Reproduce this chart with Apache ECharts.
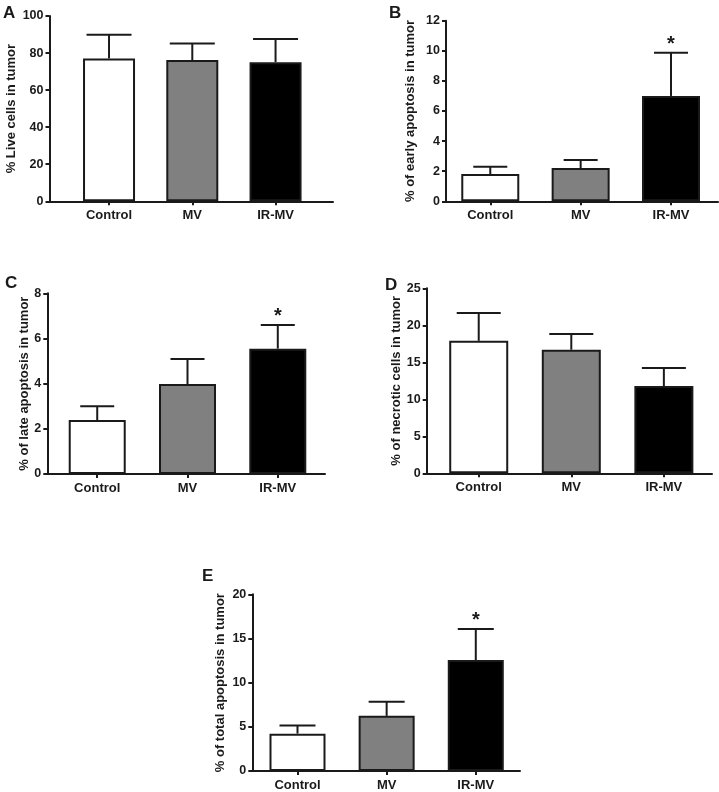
<!DOCTYPE html>
<html>
<head>
<meta charset="utf-8">
<script src="https://cdn.jsdelivr.net/npm/echarts@6/dist/echarts.min.js"></script>
<style>
html,body{margin:0;padding:0;background:#fff;}
#chart{width:719px;height:792px;}
</style>
</head>
<body>
<div id="chart"></div>
<script>
// ---- data ----
const categories = ['Control', 'MV', 'IR-MV'];
const xPositions = [1, 2, 3];

const liveMean = [77.1, 76.2, 75.1];
const liveSD = [12.8, 9.0, 12.5];
const liveSig = ['', '', ''];

const earlyMean = [1.81, 2.21, 7.0];
const earlySD = [0.49, 0.53, 2.87];
const earlySig = ['', '', '*'];

const lateMean = [2.39, 3.98, 5.55];
const lateSD = [0.61, 1.11, 1.05];
const lateSig = ['', '', '*'];

const necroMean = [17.9, 16.7, 11.8];
const necroSD = [3.76, 2.12, 2.43];
const necroSig = ['', '', ''];

const totalMean = [4.23, 6.24, 12.56];
const totalSD = [0.93, 1.61, 3.52];
const totalSig = ['', '', '*'];

const yTicksLive = [0, 100, 20];
const yTicksEarly = [0, 12, 2];
const yTicksLate = [0, 8, 2];
const yTicksNecro = [0, 25, 5];
const yTicksTotal = [0, 20, 5];

// ---- style ----
const barColors = ['#ffffff', '#808080', '#000000'];
const ink = '#1a1a1a';
const fontFamily = '"Liberation Sans", Arial, Helvetica, sans-serif';

const panels = [
  { letter: 'A', letterPos: [3, 4.5], yName: '% Live cells in tumor', mean: liveMean, sd: liveSD, sig: liveSig, ticks: yTicksLive,
    grid: { left: 49.5, top: 16, width: 283.5, height: 185.3 }, xMin: 0.285, xMax: 3.69, barWidth: 52, cap: 45, nameGap: 32 },
  { letter: 'B', letterPos: [389, 4.5], yName: '% of early apoptosis in tumor', mean: earlyMean, sd: earlySD, sig: earlySig, ticks: yTicksEarly,
    grid: { left: 446, top: 20.7, width: 272, height: 180.6 }, xMin: 0.51, xMax: 3.52, barWidth: 58, cap: 34, nameGap: 29 },
  { letter: 'C', letterPos: [5, 274.5], yName: '% of late apoptosis in tumor', mean: lateMean, sd: lateSD, sig: lateSig, ticks: yTicksLate,
    grid: { left: 47.3, top: 293.3, width: 277.7, height: 180.7 }, xMin: 0.447, xMax: 3.523, barWidth: 57, cap: 34, nameGap: 15 },
  { letter: 'D', letterPos: [385, 276.5], yName: '% of necrotic cells in tumor', mean: necroMean, sd: necroSD, sig: necroSig, ticks: yTicksNecro,
    grid: { left: 426.7, top: 288.3, width: 285.3, height: 185 }, xMin: 0.438, xMax: 3.52, barWidth: 59, cap: 44, nameGap: 21 },
  { letter: 'E', letterPos: [202, 567.5], yName: '% of total apoptosis in tumor', mean: totalMean, sd: totalSD, sig: totalSig, ticks: yTicksTotal,
    grid: { left: 252.3, top: 594.3, width: 267.7, height: 178.4 }, xMin: 0.493, xMax: 3.496, barWidth: 56, cap: 36, nameGap: 25 }
];

const option = {
  animation: false,
  backgroundColor: '#ffffff',
  textStyle: { fontFamily: fontFamily },
  title: [], grid: [], xAxis: [], yAxis: [], series: []
};

panels.forEach((p, i) => {
  option.title.push({
    text: p.letter, left: p.letterPos[0], top: p.letterPos[1], padding: 0,
    textStyle: { fontSize: 17, fontWeight: 'bold', color: ink, fontFamily: fontFamily }
  });
  option.grid.push(Object.assign({ containLabel: false }, p.grid));
  option.xAxis.push({
    type: 'value', gridIndex: i, min: p.xMin, max: p.xMax,
    axisLine: { show: true, onZero: false, lineStyle: { color: ink, width: 2 } },
    axisTick: { show: true, customValues: xPositions, length: 4, lineStyle: { color: ink, width: 2 } },
    axisLabel: { show: true, customValues: xPositions, margin: 8, fontSize: 13, fontWeight: 'bold', color: ink, fontFamily: fontFamily,
      formatter: v => categories[Math.round(v) - 1] || '' },
    splitLine: { show: false }
  });
  option.yAxis.push({
    type: 'value', gridIndex: i, min: p.ticks[0], max: p.ticks[1], interval: p.ticks[2],
    axisLine: { show: true, lineStyle: { color: ink, width: 2 } },
    axisTick: { show: true, length: 4, lineStyle: { color: ink, width: 2 } },
    axisLabel: { margin: 6, fontSize: 12.5, fontWeight: 'bold', color: ink, fontFamily: fontFamily },
    splitLine: { show: false },
    name: p.yName, nameLocation: 'middle', nameRotate: 90, nameGap: p.nameGap,
    nameTextStyle: { fontSize: 13, fontWeight: 'bold', color: ink, fontFamily: fontFamily }
  });
  option.series.push({
    type: 'bar', xAxisIndex: i, yAxisIndex: i, barWidth: p.barWidth,
    data: xPositions.map((x, k) => ({ value: [x, p.mean[k]], itemStyle: { color: barColors[k] } })),
    itemStyle: { borderColor: ink, borderWidth: 2 },
    z: 3
  });
  const sig = p.sig, cap = p.cap;
  option.series.push({
    type: 'custom', xAxisIndex: i, yAxisIndex: i, clip: false, z: 2,
    data: xPositions.map((x, k) => [x, p.mean[k], p.sd[k]]),
    renderItem: (params, api) => {
      const x = api.value(0), m = api.value(1), s = api.value(2);
      const base = api.coord([x, m]);
      const top = api.coord([x, m + s]);
      const st = { stroke: ink, lineWidth: 2 };
      const children = [
        { type: 'line', shape: { x1: base[0], y1: base[1], x2: top[0], y2: top[1] }, style: st },
        { type: 'line', shape: { x1: top[0] - cap / 2, y1: top[1], x2: top[0] + cap / 2, y2: top[1] }, style: st }
      ];
      const t = sig[params.dataIndex];
      if (t) {
        children.push({ type: 'text', x: top[0], y: top[1] - 8,
          style: { text: t, fontSize: 20, fontWeight: 'bold', fontFamily: fontFamily, fill: ink, align: 'center', verticalAlign: 'middle' } });
      }
      return { type: 'group', children: children };
    }
  });
});

const chart = echarts.init(document.getElementById('chart'), null, { renderer: 'canvas' });
chart.setOption(option);
</script>
</body>
</html>
